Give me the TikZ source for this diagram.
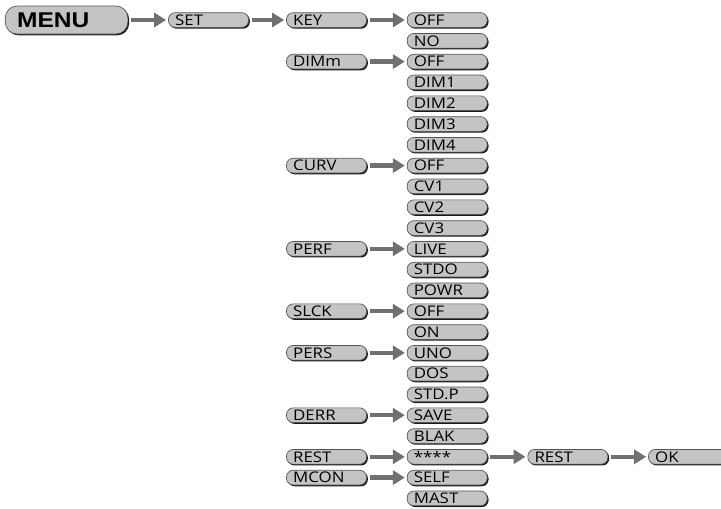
\documentclass[tikz,border=0pt]{standalone}
\usepackage{fontspec}
\setsansfont{Open Sans}[FakeStretch=1.15]
\newfontfamily\menufont[FakeStretch=1.15]{Liberation Sans}
\usetikzlibrary{positioning,arrows.meta,shadows}
\definecolor{boxgray}{HTML}{C4C4C4}
\definecolor{rimgray}{HTML}{555555}
\definecolor{arrowgray}{HTML}{707070}

\tikzset{
  optbox/.style={draw=rimgray, line width=0.5pt, fill=boxgray, rounded corners=5pt,
    minimum height=11pt, text width=50pt, inner xsep=5pt, inner ysep=0pt, align=left,
    font=\sffamily\fontsize{11}{11}\selectfont,
    drop shadow={shadow xshift=1pt, shadow yshift=-1pt, fill=black, opacity=0.9}},
  menubox/.style={optbox, rounded corners=9pt, minimum height=21pt, text width=74pt,
    inner xsep=9pt, font=\menufont\bfseries\fontsize{16}{16}\selectfont},
  go/.style={draw=arrowgray, line width=3.2pt, -{Triangle[length=9pt,width=10.5pt]},
    shorten <=2pt, shorten >=1.5pt}
}

\begin{document}
\begin{tikzpicture}[x=0.75pt, y=-0.75pt, node distance=4.1pt and 30pt]
        \useasboundingbox (0,0) rectangle (721,508);

        \node[menubox] (menu) at (66.5,20) {MENU};
        \node[optbox, right=of menu] (set) {SET};
        \node[optbox, right=28pt of set] (key) {KEY};

        % KEY
        \node[optbox, right=of key] (keyoff) {OFF};
        \node[optbox, below=of keyoff] (keyno) {NO};

        % DIMm
        \node[optbox, below=of keyno] (dimoff) {OFF};
        \node[optbox, left=of dimoff] (dimm) {DIMm};
        \node[optbox, below=of dimoff] (dim1) {DIM1};
        \node[optbox, below=of dim1] (dim2) {DIM2};
        \node[optbox, below=of dim2] (dim3) {DIM3};
        \node[optbox, below=of dim3] (dim4) {DIM4};

        % CURV
        \node[optbox, below=of dim4] (curvoff) {OFF};
        \node[optbox, left=of curvoff] (curv) {CURV};
        \node[optbox, below=of curvoff] (cv1) {CV1};
        \node[optbox, below=of cv1] (cv2) {CV2};
        \node[optbox, below=of cv2] (cv3) {CV3};

        % PERF
        \node[optbox, below=of cv3] (live) {LIVE};
        \node[optbox, left=of live] (perf) {PERF};
        \node[optbox, below=of live] (stdo) {STDO};
        \node[optbox, below=of stdo] (powr) {POWR};

        % SLCK
        \node[optbox, below=of powr] (slckoff) {OFF};
        \node[optbox, left=of slckoff] (slck) {SLCK};
        \node[optbox, below=of slckoff] (slckon) {ON};

        % PERS
        \node[optbox, below=of slckon] (uno) {UNO};
        \node[optbox, left=of uno] (pers) {PERS};
        \node[optbox, below=of uno] (dos) {DOS};
        \node[optbox, below=of dos] (stdp) {STD.P};

        % DERR
        \node[optbox, below=of stdp] (save) {SAVE};
        \node[optbox, left=of save] (derr) {DERR};
        \node[optbox, below=of save] (blak) {BLAK};

        % REST
        \node[optbox, below=of blak] (stars) {****};
        \node[optbox, left=of stars] (rest) {REST};
        \node[optbox, right=of stars] (restdo) {REST};
        \node[optbox, right=of restdo] (ok) {OK};

        % MCON
        \node[optbox, below=of stars] (self) {SELF};
        \node[optbox, left=of self] (mcon) {MCON};
        \node[optbox, below=of self] (mast) {MAST};

        \draw[go] (menu) -- (set);
        \draw[go] (set) -- (key);
        \draw[go] (key) -- (keyoff);
        \draw[go] (dimm) -- (dimoff);
        \draw[go] (curv) -- (curvoff);
        \draw[go] (perf) -- (live);
        \draw[go] (slck) -- (slckoff);
        \draw[go] (pers) -- (uno);
        \draw[go] (derr) -- (save);
        \draw[go] (rest) -- (stars);
        \draw[go] (stars) -- (restdo);
        \draw[go] (restdo) -- (ok);
        \draw[go] (mcon) -- (self);
\end{tikzpicture}
\end{document}
